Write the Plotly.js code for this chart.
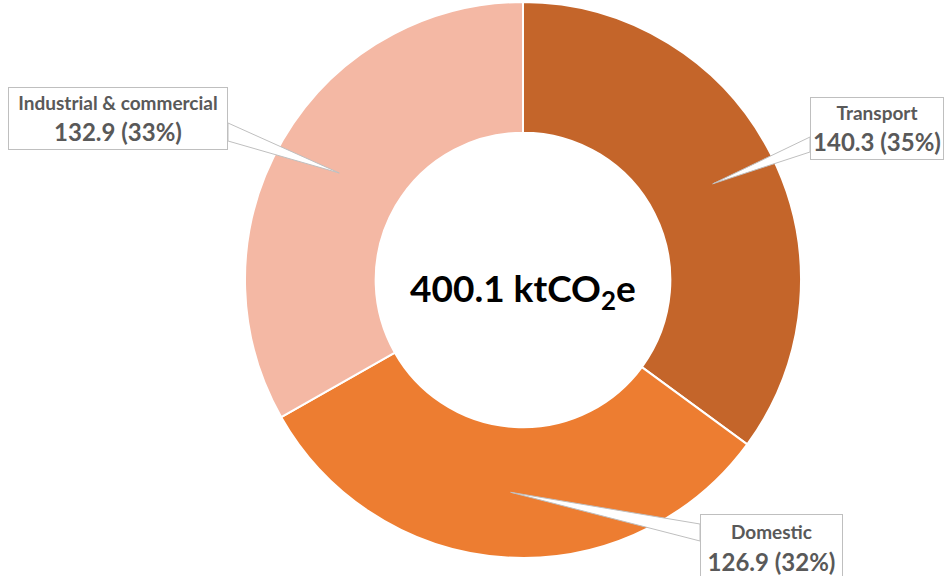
<!DOCTYPE html>
<html>
<head>
<meta charset="utf-8">
<script src="https://cdn.plot.ly/plotly-3.0.1.min.js"></script>
<style>html,body{margin:0;padding:0;background:#fff;}#chart{width:947px;height:576px;}</style>
</head>
<body>
<div id="chart"></div>
<script>
// ---- data ----
const categories = ["Transport", "Domestic", "Industrial & commercial"];
const values = [140.3, 126.9, 132.9];
const colors = ["#C4652A", "#ED7D31", "#F4B8A4"];
const centerLabel = "400.1 ktCO<sub>2</sub>e";

// ---- layout constants (pixels) ----
const W = 947, H = 576;
const cx = 523, cy = 280, R = 278, holeFrac = 0.53;
// label boxes: [left, top, right, bottom] and leader base points on box edge
const boxes = [
  {box: [810, 97, 944, 160], base: [[810, 137], [810, 152]]},
  {box: [700, 514, 843, 582], base: [[700, 524], [700, 541]]},
  {box: [8, 87, 228, 150], base: [[228, 123], [228, 141]]}
];

const px = x => x / W;
const py = y => 1 - y / H;

const total = values.reduce((a, b) => a + b, 0);

const trace = {
  type: "pie",
  labels: categories,
  values: values,
  hole: holeFrac,
  sort: false,
  direction: "clockwise",
  rotation: 0,
  textinfo: "none",
  hoverinfo: "label+value+percent",
  marker: {colors: colors, line: {color: "#ffffff", width: 2}},
  domain: {x: [px(cx - R), px(cx + R)], y: [py(cy + R), py(cy - R)]},
  showlegend: false
};

const annotations = [];
const shapes = [];
let cum = 0;
categories.forEach((cat, i) => {
  const mid = (cum + values[i] / 2) / total;
  cum += values[i];
  const ang = mid * 2 * Math.PI;
  const rm = (R * holeFrac + R) / 2;
  const tipX = cx + rm * Math.sin(ang);
  const tipY = cy - rm * Math.cos(ang);
  const b = boxes[i];
  const pct = Math.round(values[i] / total * 100);
  shapes.push({
    type: "path", xref: "paper", yref: "paper",
    path: `M ${px(b.base[0][0])} ${py(b.base[0][1])} L ${px(tipX)} ${py(tipY)} L ${px(b.base[1][0])} ${py(b.base[1][1])} Z`,
    fillcolor: "#ffffff", line: {color: "#BFBFBF", width: 1}, layer: "above"
  });
  const [l, t, r, bt] = b.box;
  annotations.push({
    xref: "paper", yref: "paper",
    x: px((l + r) / 2), y: py((t + bt) / 2),
    xanchor: "center", yanchor: "middle",
    showarrow: false,
    width: r - l - 6, height: bt - t - 6,
    bgcolor: "#ffffff", bordercolor: "#BFBFBF", borderwidth: 1, borderpad: 2,
    align: "center",
    text: `<b><span style="font-size:19px">${cat.replace("&", "&amp;")}</span></b><br><b>${values[i].toFixed(1)} (${pct}%)</b>`,
    font: {family: "Lato, 'Open Sans', sans-serif", size: 24, color: "#595959"}
  });
});

annotations.push({
  xref: "paper", yref: "paper", x: px(cx), y: py(cy + 10),
  xanchor: "center", yanchor: "middle", showarrow: false,
  text: "<b>" + centerLabel + "</b>",
  font: {family: "Lato, 'Open Sans', sans-serif", size: 37, color: "#000000"}
});

const layout = {
  width: W, height: H,
  margin: {l: 0, r: 0, t: 0, b: 0},
  paper_bgcolor: "#ffffff",
  annotations: annotations,
  shapes: shapes
};

Plotly.newPlot("chart", [trace], layout, {displayModeBar: false, staticPlot: true});
</script>
</body>
</html>
